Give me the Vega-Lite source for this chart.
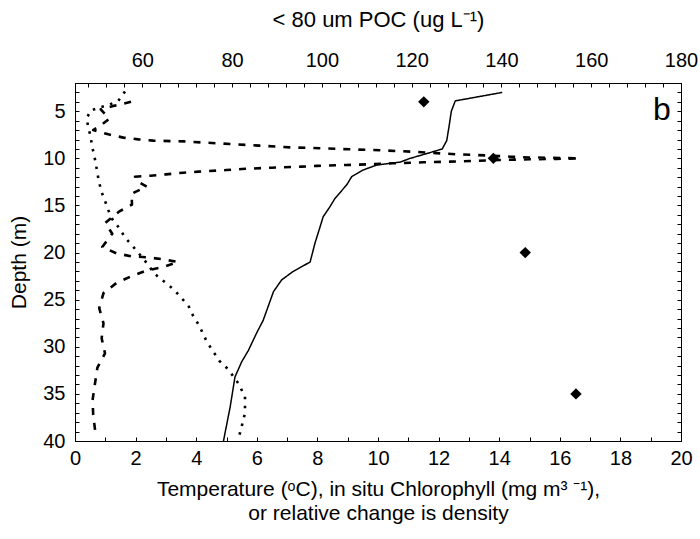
{
  "$schema": "https://vega.github.io/schema/vega-lite/v6.json",
  "width": 606,
  "height": 358,
  "autosize": "none",
  "padding": {"left": 75, "top": 83, "right": 19, "bottom": 98},
  "background": "white",
  "config": {
    "view": {"stroke": "black", "strokeWidth": 1},
    "axis": {
      "domainColor": "black",
      "domainWidth": 1,
      "tickColor": "black",
      "tickWidth": 1,
      "tickSize": -4,
      "labelColor": "black",
      "titleColor": "black",
      "labelFont": "Liberation Sans",
      "titleFont": "Liberation Sans",
      "labelFontSize": 20,
      "titleFontSize": 21,
      "titleFontWeight": "normal",
      "labelFlush": false,
      "labelOverlap": false,
      "labelBound": false,
      "grid": false
    }
  },
  "datasets": {
    "profiles": [
      {"s": "temp", "depth": 3.0, "value": 14.1},
      {"s": "temp", "depth": 3.9, "value": 12.55},
      {"s": "temp", "depth": 5.0, "value": 12.42},
      {"s": "temp", "depth": 6.5, "value": 12.35},
      {"s": "temp", "depth": 8.1, "value": 12.27},
      {"s": "temp", "depth": 9.0, "value": 12.12},
      {"s": "temp", "depth": 9.5, "value": 11.6},
      {"s": "temp", "depth": 10.0, "value": 11.06},
      {"s": "temp", "depth": 10.4, "value": 10.73},
      {"s": "temp", "depth": 10.7, "value": 9.96},
      {"s": "temp", "depth": 11.25, "value": 9.5},
      {"s": "temp", "depth": 11.95, "value": 9.13},
      {"s": "temp", "depth": 12.8, "value": 8.97},
      {"s": "temp", "depth": 14.25, "value": 8.58},
      {"s": "temp", "depth": 15.1, "value": 8.42},
      {"s": "temp", "depth": 16.2, "value": 8.19},
      {"s": "temp", "depth": 17.25, "value": 8.09},
      {"s": "temp", "depth": 19.0, "value": 7.92},
      {"s": "temp", "depth": 21.0, "value": 7.76},
      {"s": "temp", "depth": 22.0, "value": 7.2},
      {"s": "temp", "depth": 22.9, "value": 6.82},
      {"s": "temp", "depth": 24.15, "value": 6.55},
      {"s": "temp", "depth": 27.2, "value": 6.21},
      {"s": "temp", "depth": 28.5, "value": 6.0},
      {"s": "temp", "depth": 30.4, "value": 5.72},
      {"s": "temp", "depth": 31.6, "value": 5.5},
      {"s": "temp", "depth": 33.2, "value": 5.28},
      {"s": "temp", "depth": 36.4, "value": 5.12},
      {"s": "temp", "depth": 40.0, "value": 4.9},

      {"s": "chl", "depth": 4.0, "value": 1.85},
      {"s": "chl", "depth": 4.4, "value": 1.32},
      {"s": "chl", "depth": 4.8, "value": 0.85},
      {"s": "chl", "depth": 5.8, "value": 1.13},
      {"s": "chl", "depth": 6.5, "value": 0.85},
      {"s": "chl", "depth": 7.0, "value": 0.6},
      {"s": "chl", "depth": 7.45, "value": 1.1},
      {"s": "chl", "depth": 7.8, "value": 1.6},
      {"s": "chl", "depth": 7.98, "value": 2.09},
      {"s": "chl", "depth": 8.12, "value": 2.58},
      {"s": "chl", "depth": 8.2, "value": 3.6},
      {"s": "chl", "depth": 8.48, "value": 5.12},
      {"s": "chl", "depth": 8.65, "value": 6.1},
      {"s": "chl", "depth": 8.83, "value": 7.1},
      {"s": "chl", "depth": 8.93, "value": 8.09},
      {"s": "chl", "depth": 9.04, "value": 9.08},
      {"s": "chl", "depth": 9.14, "value": 10.07},
      {"s": "chl", "depth": 9.3, "value": 11.16},
      {"s": "chl", "depth": 9.57, "value": 12.6},
      {"s": "chl", "depth": 9.7, "value": 13.7},
      {"s": "chl", "depth": 9.82, "value": 14.36},
      {"s": "chl", "depth": 9.9, "value": 15.0},
      {"s": "chl", "depth": 9.96, "value": 16.1},
      {"s": "chl", "depth": 10.0, "value": 16.65},
      {"s": "chl", "depth": 10.05, "value": 15.9},
      {"s": "chl", "depth": 10.1, "value": 15.02},
      {"s": "chl", "depth": 10.17, "value": 14.03},
      {"s": "chl", "depth": 10.28, "value": 13.04},
      {"s": "chl", "depth": 10.35, "value": 12.38},
      {"s": "chl", "depth": 10.42, "value": 11.5},
      {"s": "chl", "depth": 10.52, "value": 10.5},
      {"s": "chl", "depth": 10.63, "value": 9.7},
      {"s": "chl", "depth": 10.7, "value": 8.97},
      {"s": "chl", "depth": 10.8, "value": 7.98},
      {"s": "chl", "depth": 10.88, "value": 7.48},
      {"s": "chl", "depth": 10.99, "value": 6.49},
      {"s": "chl", "depth": 11.13, "value": 5.5},
      {"s": "chl", "depth": 11.24, "value": 5.0},
      {"s": "chl", "depth": 11.41, "value": 4.07},
      {"s": "chl", "depth": 11.52, "value": 3.57},
      {"s": "chl", "depth": 11.7, "value": 3.0},
      {"s": "chl", "depth": 11.84, "value": 2.48},
      {"s": "chl", "depth": 11.95, "value": 1.98},
      {"s": "chl", "depth": 12.48, "value": 2.09},
      {"s": "chl", "depth": 13.0, "value": 2.37},
      {"s": "chl", "depth": 13.75, "value": 1.87},
      {"s": "chl", "depth": 14.9, "value": 1.88},
      {"s": "chl", "depth": 15.66, "value": 1.45},
      {"s": "chl", "depth": 16.85, "value": 1.0},
      {"s": "chl", "depth": 18.0, "value": 1.23},
      {"s": "chl", "depth": 19.4, "value": 0.9},
      {"s": "chl", "depth": 20.1, "value": 1.38},
      {"s": "chl", "depth": 20.4, "value": 1.87},
      {"s": "chl", "depth": 20.5, "value": 2.39},
      {"s": "chl", "depth": 20.7, "value": 2.86},
      {"s": "chl", "depth": 21.0, "value": 3.4},
      {"s": "chl", "depth": 21.57, "value": 2.86},
      {"s": "chl", "depth": 21.9, "value": 2.37},
      {"s": "chl", "depth": 22.5, "value": 1.87},
      {"s": "chl", "depth": 23.2, "value": 1.38},
      {"s": "chl", "depth": 24.3, "value": 0.94},
      {"s": "chl", "depth": 25.9, "value": 0.8},
      {"s": "chl", "depth": 27.5, "value": 0.94},
      {"s": "chl", "depth": 29.1, "value": 0.88},
      {"s": "chl", "depth": 30.7, "value": 0.99},
      {"s": "chl", "depth": 32.2, "value": 0.74},
      {"s": "chl", "depth": 33.9, "value": 0.66},
      {"s": "chl", "depth": 35.65, "value": 0.58},
      {"s": "chl", "depth": 37.2, "value": 0.6},
      {"s": "chl", "depth": 39.3, "value": 0.68},

      {"s": "dens", "depth": 2.9, "value": 1.65},
      {"s": "dens", "depth": 3.9, "value": 1.43},
      {"s": "dens", "depth": 4.3, "value": 1.13},
      {"s": "dens", "depth": 4.9, "value": 0.52},
      {"s": "dens", "depth": 5.8, "value": 0.38},
      {"s": "dens", "depth": 6.8, "value": 0.45},
      {"s": "dens", "depth": 7.8, "value": 0.52},
      {"s": "dens", "depth": 8.8, "value": 0.57},
      {"s": "dens", "depth": 9.64, "value": 0.63},
      {"s": "dens", "depth": 10.6, "value": 0.69},
      {"s": "dens", "depth": 11.6, "value": 0.74},
      {"s": "dens", "depth": 12.6, "value": 0.8},
      {"s": "dens", "depth": 13.6, "value": 0.88},
      {"s": "dens", "depth": 14.5, "value": 0.99},
      {"s": "dens", "depth": 15.5, "value": 1.1},
      {"s": "dens", "depth": 16.5, "value": 1.24},
      {"s": "dens", "depth": 17.4, "value": 1.46},
      {"s": "dens", "depth": 18.4, "value": 1.65},
      {"s": "dens", "depth": 19.3, "value": 1.9},
      {"s": "dens", "depth": 20.26, "value": 2.15},
      {"s": "dens", "depth": 21.2, "value": 2.39},
      {"s": "dens", "depth": 22.2, "value": 2.61},
      {"s": "dens", "depth": 23.0, "value": 2.91},
      {"s": "dens", "depth": 23.8, "value": 3.22},
      {"s": "dens", "depth": 24.75, "value": 3.5},
      {"s": "dens", "depth": 25.75, "value": 3.76},
      {"s": "dens", "depth": 26.73, "value": 3.9},
      {"s": "dens", "depth": 27.7, "value": 4.09},
      {"s": "dens", "depth": 29.46, "value": 4.35},
      {"s": "dens", "depth": 31.48, "value": 4.76},
      {"s": "dens", "depth": 32.4, "value": 5.06},
      {"s": "dens", "depth": 33.88, "value": 5.39},
      {"s": "dens", "depth": 35.3, "value": 5.61},
      {"s": "dens", "depth": 37.06, "value": 5.61},
      {"s": "dens", "depth": 39.1, "value": 5.45},
      {"s": "dens", "depth": 39.6, "value": 5.4}
    ],
    "poc": [
      {"depth": 4, "poc": 122.7},
      {"depth": 10, "poc": 138.2},
      {"depth": 20, "poc": 145.3},
      {"depth": 35, "poc": 156.6}
    ],
    "panel": [{"label": "b"}]
  },
  "layer": [
    {
      "data": {"name": "profiles"},
      "mark": {"type": "line", "color": "black", "strokeCap": "butt", "strokeJoin": "round"},
      "encoding": {
        "x": {
          "field": "value",
          "type": "quantitative",
          "scale": {"domain": [0, 20], "nice": false, "zero": false},
          "axis": {
            "orient": "bottom",
            "values": [0, 1, 2, 3, 4, 5, 6, 7, 8, 9, 10, 11, 12, 13, 14, 15, 16, 17, 18, 19, 20],
            "labelExpr": "datum.value % 2 === 0 ? datum.label : ''",
            "labelPadding": 11,
            "title": ["Temperature (ᵒC), in situ Chlorophyll (mg m³ ⁻¹),", "or relative change is density"],
            "titleLineHeight": 24,
            "titlePadding": 10
          }
        },
        "y": {
          "field": "depth",
          "type": "quantitative",
          "scale": {"domain": [2, 40], "reverse": true, "nice": false, "zero": false},
          "axis": {
            "orient": "left",
            "values": [2, 3, 4, 5, 6, 7, 8, 9, 10, 11, 12, 13, 14, 15, 16, 17, 18, 19, 20, 21, 22, 23, 24, 25, 26, 27, 28, 29, 30, 31, 32, 33, 34, 35, 36, 37, 38, 39, 40],
            "labelExpr": "datum.value % 5 === 0 ? datum.label : ''",
            "labelPadding": 14,
            "title": "Depth (m)",
            "titlePadding": 13
          }
        },
        "detail": {"field": "s"},
        "order": {"field": "depth"},
        "strokeDash": {
          "condition": [
            {"test": "datum.s === 'chl'", "value": [7, 8]},
            {"test": "datum.s === 'dens'", "value": [2.5, 6.5]}
          ],
          "value": [1, 0]
        },
        "strokeWidth": {
          "condition": {"test": "datum.s === 'temp'", "value": 1.5},
          "value": 2.6
        }
      }
    },
    {
      "data": {"name": "poc"},
      "mark": {"type": "point", "shape": "diamond", "filled": true, "color": "black", "opacity": 1, "size": 130},
      "encoding": {
        "x": {
          "field": "poc",
          "type": "quantitative",
          "scale": {"domain": [45, 180], "nice": false, "zero": false},
          "axis": {
            "orient": "top",
            "values": [48, 52, 56, 60, 64, 68, 72, 76, 80, 84, 88, 92, 96, 100, 104, 108, 112, 116, 120, 124, 128, 132, 136, 140, 144, 148, 152, 156, 160, 164, 168, 172, 176, 180],
            "labelExpr": "datum.value % 20 === 0 ? datum.label : ''",
            "labelPadding": 17,
            "title": "< 80 um POC (ug L⁻¹)",
            "titleFontSize": 22,
            "titlePadding": 19
          }
        },
        "y": {
          "field": "depth",
          "type": "quantitative",
          "axis": {
            "orient": "right",
            "values": [2, 3, 4, 5, 6, 7, 8, 9, 10, 11, 12, 13, 14, 15, 16, 17, 18, 19, 20, 21, 22, 23, 24, 25, 26, 27, 28, 29, 30, 31, 32, 33, 34, 35, 36, 37, 38, 39, 40],
            "labels": false,
            "title": null
          }
        }
      }
    },
    {
      "data": {"name": "panel"},
      "mark": {"type": "text", "font": "Liberation Sans", "fontSize": 32, "align": "center", "baseline": "middle", "color": "black"},
      "encoding": {
        "text": {"field": "label"},
        "x": {"datum": 19.37, "type": "quantitative", "scale": {"domain": [0, 20], "nice": false, "zero": false}, "axis": null},
        "y": {"datum": 4.9, "type": "quantitative", "axis": null}
      }
    }
  ],
  "resolve": {"scale": {"x": "independent"}, "axis": {"y": "independent"}}
}
